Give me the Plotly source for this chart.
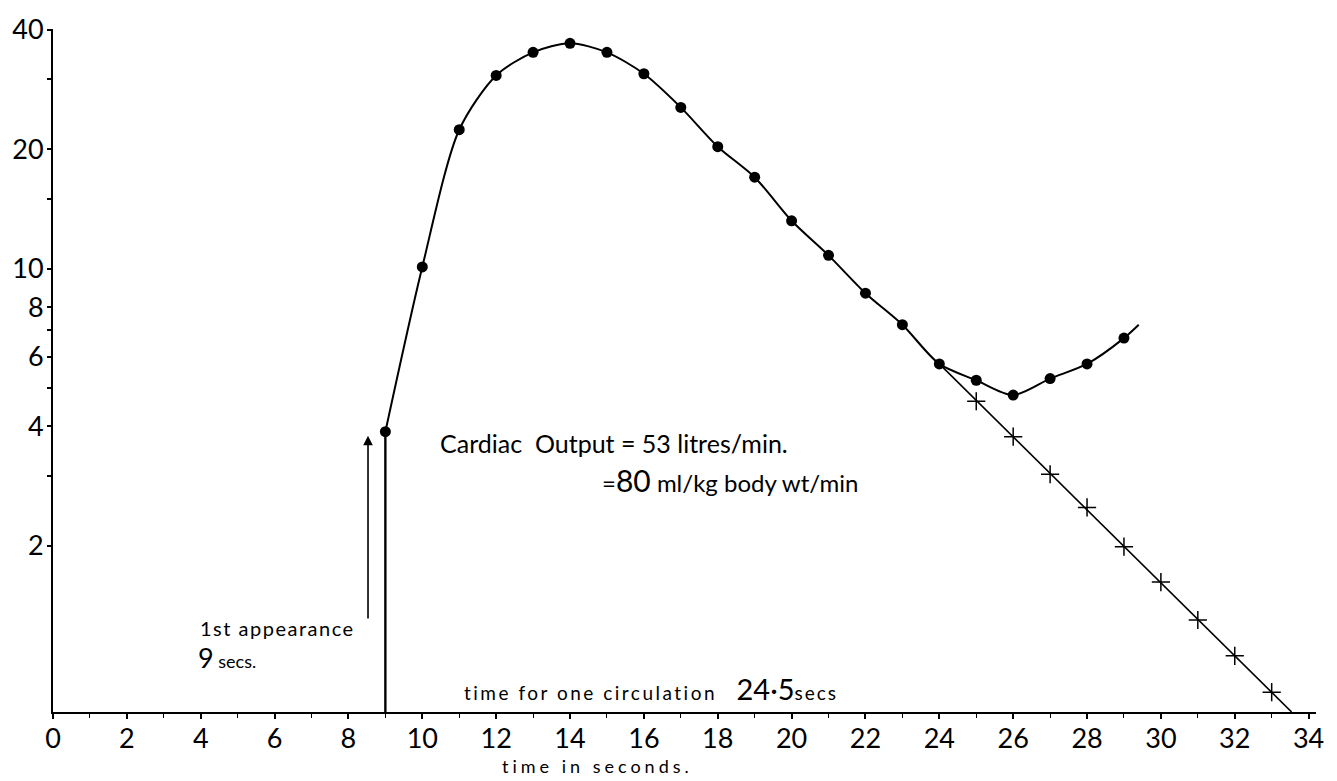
import math
import plotly.graph_objects as go

# ---------------- data ----------------
dye_time = [9, 10, 11, 12, 13, 14, 15, 16, 17, 18, 19, 20, 21, 22, 23, 24, 25, 26, 27, 28, 29]
dye_conc = [3.88, 10.1, 22.4, 30.7, 35.1, 37.0, 35.1, 31.0, 25.5, 20.3, 17.0, 13.2, 10.8,
            8.67, 7.22, 5.75, 5.23, 4.80, 5.28, 5.75, 6.68]
curve_tail_time = [29.4]
curve_tail_conc = [7.22]

extrap_time = [25, 26, 27, 28, 29, 30, 31, 32, 33]
extrap_conc = [4.63, 3.77, 3.03, 2.50, 1.99, 1.62, 1.30, 1.056, 0.855]
decay_line_time = [24, 33.54]
decay_line_conc = [5.75, 0.762]

appearance_time = [9, 9]
appearance_conc = [3.88, 0.762]
arrow_time = 8.53
arrow_conc_from = 1.30
arrow_conc_to = 3.79

x_tick_vals = list(range(0, 35, 2))
x_minor_vals = list(range(0, 35, 1))
y_tick_vals = [2, 3, 4, 5, 6, 7, 8, 10, 15, 20, 30, 40]
y_tick_text = ["2", "", "4", "", "6", "", "8", "10", "", "20", "", "40"]

x_range = [0, 34.2]
y_range = [0.762, 40.2]

FONT = "Lato"
INK = "black"

fig = go.Figure()

# smooth dye curve
fig.add_trace(go.Scatter(
    x=dye_time + curve_tail_time, y=dye_conc + curve_tail_conc,
    mode="lines", line=dict(color=INK, width=2, shape="spline", smoothing=0.8),
    hoverinfo="skip", showlegend=False))
# measured points
fig.add_trace(go.Scatter(
    x=dye_time, y=dye_conc, mode="markers",
    marker=dict(symbol="circle", size=11, color=INK),
    showlegend=False))
# exponential extrapolation line
fig.add_trace(go.Scatter(
    x=decay_line_time, y=decay_line_conc, mode="lines",
    line=dict(color=INK, width=1.6), hoverinfo="skip", showlegend=False))
fig.add_trace(go.Scatter(
    x=extrap_time, y=extrap_conc, mode="markers",
    marker=dict(symbol="cross-thin", size=13, color=INK, line=dict(color=INK, width=1.5)),
    showlegend=False))
# first appearance vertical line
fig.add_trace(go.Scatter(
    x=appearance_time, y=appearance_conc, mode="lines",
    line=dict(color=INK, width=2.4), hoverinfo="skip", showlegend=False))

L, R, T, B = 53, 21, 22, 69
W, H = 1337, 781
pw, ph = W - L - R, H - T - B


def px(xp):
    return (xp - L) / pw


def py(yp):
    return (H - B - yp) / ph


annos = [
    dict(text="Cardiac  Output = 53 litres/min.", x=px(438), y=py(440), size=25),
    dict(text="=<span style='font-size:30px'>80</span> ml/kg body wt/min", x=px(600), y=py(478), size=24),
    dict(text="<span style='letter-spacing:1.5px'>1st appearance</span>", x=px(198), y=py(627), size=20),
    dict(text="<span style='font-size:27px'>9</span> secs.", x=px(196), y=py(657), size=18),
    dict(text="<span style='letter-spacing:2.5px'>time for one circulation</span>"
              "&nbsp;&nbsp;&nbsp;&nbsp;<span style='font-size:29px'>24·5</span>"
              "<span style='letter-spacing:2px'>secs</span>",
         x=px(462), y=py(688), size=19),
    dict(text="<span style='letter-spacing:4px'>time in seconds.</span>", x=px(500), y=py(767), size=18),
]
for a in annos:
    fig.add_annotation(text=a["text"], x=a["x"], y=a["y"], xref="paper", yref="paper",
                       xanchor="left", yanchor="middle", showarrow=False,
                       font=dict(family=FONT, size=a["size"], color=INK))

# arrow for first appearance
fig.add_annotation(x=arrow_time, y=math.log10(arrow_conc_to),
                   ax=arrow_time, ay=math.log10(arrow_conc_from),
                   xref="x", yref="y", axref="x", ayref="y",
                   text="", showarrow=True, arrowhead=2, arrowsize=1.2,
                   arrowwidth=1.6, arrowcolor=INK)

fig.update_layout(
    width=W, height=H,
    margin=dict(l=L, r=R, t=T, b=B, pad=0),
    paper_bgcolor="white", plot_bgcolor="white",
    showlegend=False,
    font=dict(family=FONT, color=INK),
)
fig.update_xaxes(
    range=x_range, showgrid=False, zeroline=False,
    showline=True, linecolor=INK, linewidth=2,
    tickmode="array", tickvals=x_tick_vals, ticktext=[str(v) for v in x_tick_vals],
    ticks="outside", ticklen=5, tickwidth=1.5, tickcolor=INK,
    minor=dict(tickmode="array", tickvals=x_minor_vals, ticks="outside", ticklen=4,
               tickwidth=1.2, tickcolor=INK),
    tickfont=dict(family=FONT, size=27, color=INK),
    ticklabelstandoff=-3,
)
fig.update_yaxes(
    type="log", range=[math.log10(y_range[0]), math.log10(y_range[1])],
    showgrid=False, zeroline=False,
    showline=True, linecolor=INK, linewidth=2,
    tickmode="array", tickvals=y_tick_vals, ticktext=y_tick_text,
    ticks="outside", ticklen=4, tickwidth=1.5, tickcolor=INK,
    tickfont=dict(family=FONT, size=27, color=INK),
    ticklabelstandoff=-2,
)

fig.write_html("out.html")
